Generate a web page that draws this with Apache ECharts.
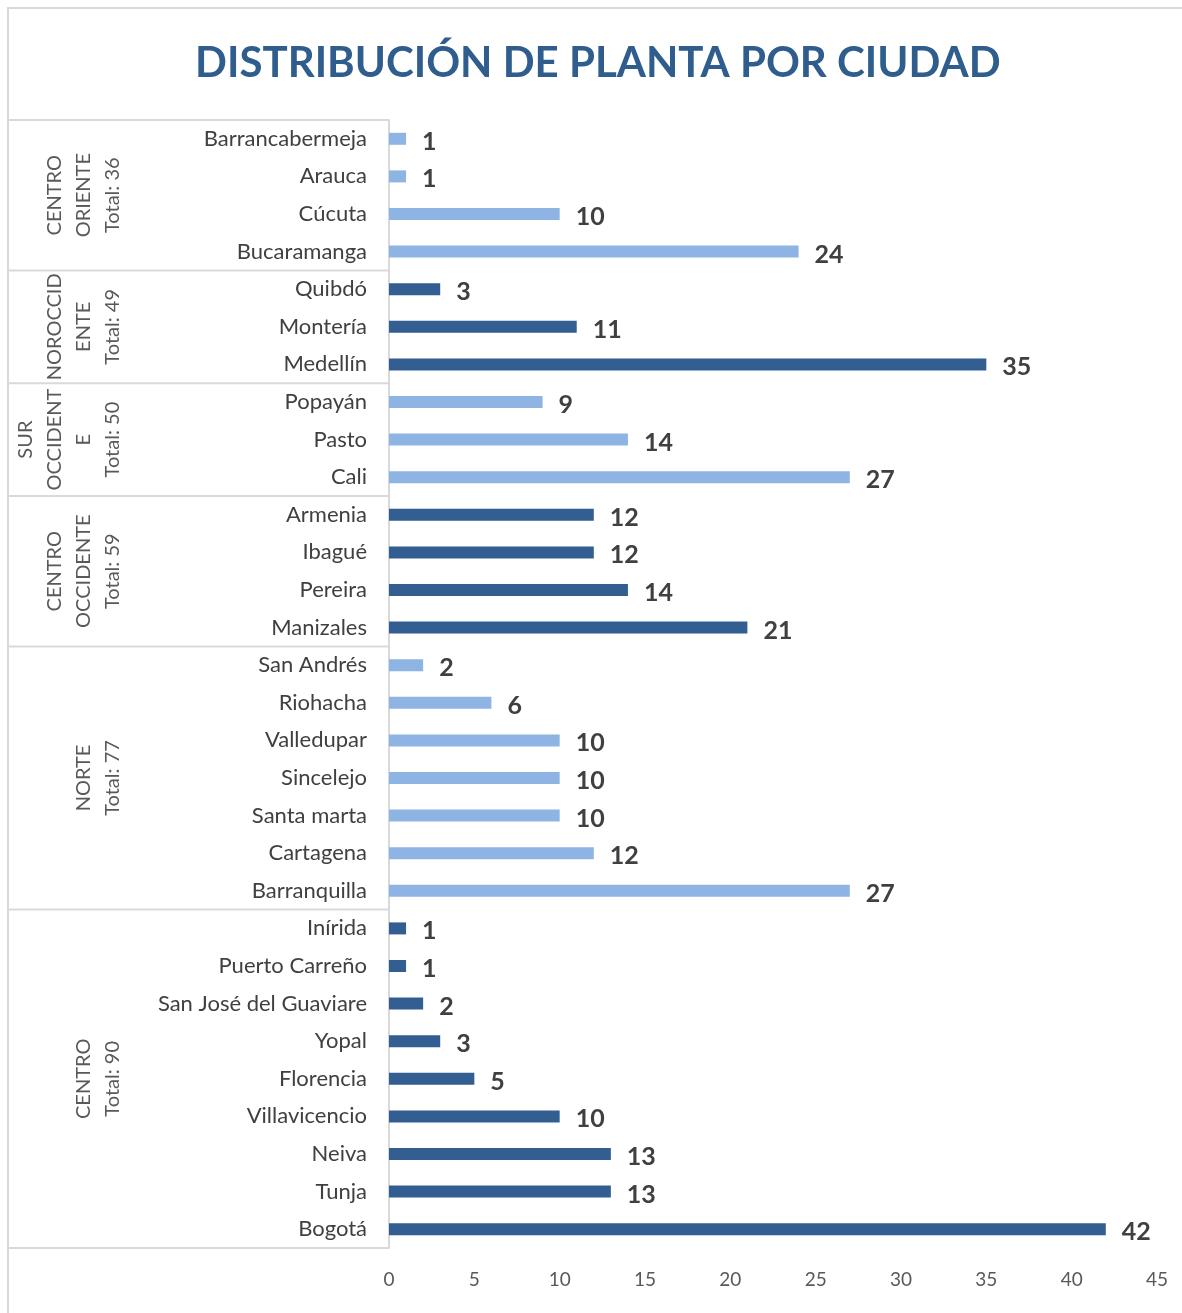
<!DOCTYPE html>
<html><head><meta charset="utf-8">
<script src="https://cdn.jsdelivr.net/npm/echarts@6/dist/echarts.min.js"></script>
<style>html,body{margin:0;padding:0;background:#fff}#c{width:1182px;height:1313px}</style>
</head><body><div id="c"></div>
<script>
const cities = ['Barrancabermeja','Arauca','Cúcuta','Bucaramanga','Quibdó','Montería','Medellín','Popayán','Pasto','Cali','Armenia','Ibagué','Pereira','Manizales','San Andrés','Riohacha','Valledupar','Sincelejo','Santa marta','Cartagena','Barranquilla','Inírida','Puerto Carreño','San José del Guaviare','Yopal','Florencia','Villavicencio','Neiva','Tunja','Bogotá'];
const values = [1,1,10,24,3,11,35,9,14,27,12,12,14,21,2,6,10,10,10,12,27,1,1,2,3,5,10,13,13,42];
const groupNames = [['CENTRO','ORIENTE'],['NOROCCID','ENTE'],['SUR','OCCIDENT','E'],['CENTRO','OCCIDENTE'],['NORTE'],['CENTRO']];
const groupTotals = [36,49,50,59,77,90];
const groupSizes = [4,3,3,4,7,9];
const xMin = 0, xMax = 45, xInterval = 5;

const LIGHT = '#8DB4E2', DARK = '#335E91', GRID = '#D9D9D9';
const FONT = 'Lato, "Open Sans", sans-serif';

const groupOf = [];
groupSizes.forEach((n, g) => { for (let i = 0; i < n; i++) groupOf.push(g); });

const chart = echarts.init(document.getElementById('c'), null, {renderer: 'canvas'});
const option = {
  animation: false,
  backgroundColor: '#fff',
  title: {
    text: 'DISTRIBUCIÓN DE PLANTA POR CIUDAD',
    left: 190, top: 37,
    textStyle: {fontFamily: FONT, fontSize: 42, fontWeight: 'bold', color: '#2F5D8E'}
  },
  grid: {left: 389, right: 25, top: 120, bottom: 65, containLabel: false},
  xAxis: {
    type: 'value', min: xMin, max: xMax, interval: xInterval,
    axisLine: {show: false}, axisTick: {show: false}, splitLine: {show: false},
    axisLabel: {fontFamily: FONT, fontSize: 19, color: '#595959', margin: 22}
  },
  yAxis: {
    type: 'category', data: cities, inverse: true,
    axisLine: {show: true, lineStyle: {color: GRID, width: 2}},
    axisTick: {show: false},
    axisLabel: {fontFamily: FONT, fontSize: 22, color: '#404040', margin: 22}
  },
  series: [{
    type: 'bar', barWidth: 12,
    data: values.map((v, i) => ({value: v, itemStyle: {color: groupOf[i] % 2 === 0 ? LIGHT : DARK}})),
    label: {show: true, position: 'right', distance: 16, offset: [0, 3],
      fontFamily: FONT, fontSize: 25, fontWeight: 'bold', color: '#404040'}
  }]
};
chart.setOption(option);

// Group table on the left, positioned from the category axis scale
const y0 = chart.convertToPixel({yAxisIndex: 0}, cities[0]);
const y1 = chart.convertToPixel({yAxisIndex: 0}, cities[1]);
const band = y1 - y0;
const boundaries = [y0 - band / 2];
let idx = 0;
groupSizes.forEach(n => { idx += n; boundaries.push(chart.convertToPixel({yAxisIndex: 0}, cities[idx - 1]) + band / 2); });
const axisX = chart.convertToPixel({xAxisIndex: 0}, 0);

const graphics = [];
graphics.push({type: 'rect', shape: {x: 8, y: 8, width: 1200, height: 1320}, style: {fill: null, stroke: GRID, lineWidth: 2}, silent: true});
boundaries.forEach(b => {
  graphics.push({type: 'line', shape: {x1: 8, y1: b, x2: axisX, y2: b}, style: {stroke: GRID, lineWidth: 2}, silent: true});
});
groupNames.forEach((lines, g) => {
  const cy = (boundaries[g] + boundaries[g + 1]) / 2;
  graphics.push({
    type: 'text', x: 127, y: cy, rotation: Math.PI / 2,
    style: {
      text: lines.concat(['Total: ' + groupTotals[g]]).join('\n'),
      fontFamily: FONT, fontSize: 20, lineHeight: 29, fill: '#595959',
      align: 'center', verticalAlign: 'bottom'
    },
    silent: true
  });
});
chart.setOption({graphic: graphics});
</script></body></html>
